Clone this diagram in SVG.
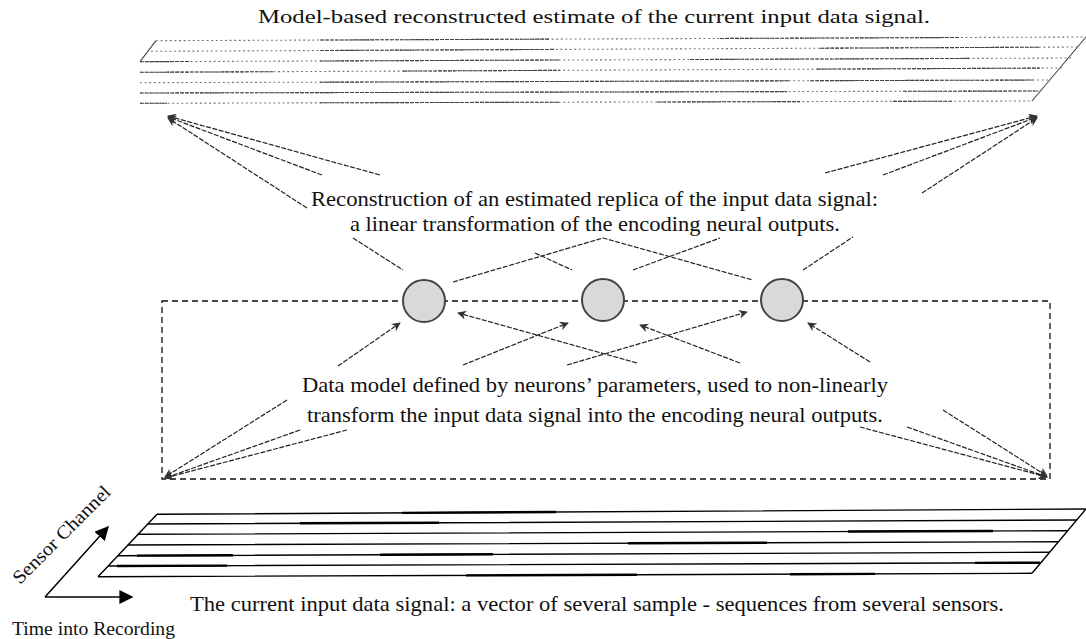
<svg xmlns="http://www.w3.org/2000/svg" width="1086" height="639" viewBox="0 0 1086 639">
<defs>
<marker id="ah" viewBox="0 0 10 10" refX="9" refY="5" markerWidth="9" markerHeight="9" markerUnits="userSpaceOnUse" orient="auto">
<path d="M0,0 L10,5 L0,10 L3,5 z" fill="#333"/>
</marker>
<marker id="axh" viewBox="0 0 10 10" refX="9" refY="5" markerWidth="14" markerHeight="14" markerUnits="userSpaceOnUse" orient="auto">
<path d="M0,0 L10,5 L0,10 z" fill="#000"/>
</marker>
<style>
.t{font-family:"Liberation Serif","Times New Roman",serif;fill:#111}
.big{font-size:21px}
.sm{font-size:19px}
.sig{stroke:#777;stroke-width:1.1;stroke-dasharray:2 2.6;fill:none}
.sigd{stroke:#444;stroke-width:1.1;stroke-dasharray:4 1;fill:none}
.edge{stroke:#444;stroke-width:1.1;fill:none}
.in{stroke:#000;stroke-width:1.4;fill:none}
.thk{stroke:#000;stroke-width:2.4;fill:none}
.box{stroke:#111;stroke-width:1.3;stroke-dasharray:6 4;fill:none}
.neuron{fill:#d9d9d9;stroke:#444;stroke-width:2}
.con{stroke:#222;stroke-width:1.2;stroke-dasharray:5 1.5;fill:none}
.ar{marker-end:url(#ah)}
.ax{stroke:#000;stroke-width:1.5;fill:none;marker-end:url(#axh)}
</style>
</defs>
<rect width="1086" height="639" fill="#fff"/>

<g id="output-signal">
<path class="edge" d="M156,40.7 L140,61.7 M1086,37 L1032,101"/>
<path class="sig" d="M156,40.7 L1086,37 M151,51.3 L1080,47 M140,61.7 L1072,58 M140,72.3 L1062,68 M140,82.7 L1051,80 M140,93 L1042,91 M140,103.3 L1032,101"/>
<path class="sigd" d="M320,40.05 L550,39.1 M720,38.45 L960,37.5 M320,50.5 L555,49.4 M820,48.2 L1040,47.2 M140,61.7 L190,61.5 M320,61 L560,60 M690,59.5 L970,58.4 M140,72.3 L273,71.7 M403,71.1 L560,70.3 M817,69.1 L1040,68.1 M320,82.2 L790,80.8 M810,80.7 L1033,80.05 M140,93 L787,91.6 M903,91.3 L1037,91 M140,103.3 L167,103.2 M320,102.8 L560,102.2 M657,102 L800,101.6 M893,101.4 L953,101.2"/>
</g>
<text class="t sm" x="258" y="23" textLength="672" lengthAdjust="spacingAndGlyphs">Model-based reconstructed estimate of the current input data signal.</text>

<g id="data-model">
<rect class="box" x="162" y="301" width="888" height="178"/>
</g>

<g id="connectors">
<path class="con ar" d="M380,175 L168,116"/>
<path class="con ar" d="M322,175 L168,117"/>
<path class="con ar" d="M307,208 L168,118"/>
<path class="con ar" d="M825,173 L1037,116"/>
<path class="con ar" d="M883,175 L1037,117"/>
<path class="con ar" d="M922,193 L1037,118"/>
<path class="con" d="M353,238 L403,270"/>
<path class="con" d="M453,282 L603,238 L753,280"/>
<path class="con" d="M535,253 L572,270"/>
<path class="con" d="M633,270 L720,238"/>
<path class="con" d="M803,270 L853,237"/>
<path class="con ar" d="M338,366 L400,323"/>
<path class="con ar" d="M637,363 L458,313"/>
<path class="con ar" d="M463,365 L568,323"/>
<path class="con ar" d="M740,363 L640,325"/>
<path class="con ar" d="M567,365 L747,312"/>
<path class="con ar" d="M870,362 L808,323"/>
<path class="con ar" d="M287,400 L165,477"/>
<path class="con ar" d="M300,430 L165,478"/>
<path class="con ar" d="M347,430 L165,478"/>
<path class="con ar" d="M943,410 L1047,476"/>
<path class="con ar" d="M907,427 L1047,477"/>
<path class="con ar" d="M860,427 L1047,477"/>
</g>

<g id="neuron-1"><circle class="neuron" cx="424" cy="301" r="21"/></g>
<g id="neuron-2"><circle class="neuron" cx="603" cy="300" r="21"/></g>
<g id="neuron-3"><circle class="neuron" cx="782" cy="300" r="21"/></g>

<text class="t big" x="311" y="206" textLength="567" lengthAdjust="spacingAndGlyphs">Reconstruction of an estimated replica of the input data signal:</text>
<text class="t big" x="350" y="231" textLength="490" lengthAdjust="spacingAndGlyphs">a linear transformation of the encoding neural outputs.</text>
<text class="t big" x="302" y="392" textLength="586" lengthAdjust="spacingAndGlyphs">Data model defined by neurons’ parameters, used to non-linearly</text>
<text class="t big" x="307" y="422" textLength="576" lengthAdjust="spacingAndGlyphs">transform the input data signal into the encoding neural outputs.</text>

<g id="input-signal">
<path class="in" d="M157,514.3 L98,576.7 M1086,509 L1032,573.3"/>
<path class="in" d="M157,514.3 L1086,509 M147.8,524 L1076.8,520 M138.1,534.3 L1067.8,530.7 M128,545 L1058.5,541.7 M117.9,555.7 L1049.6,552.3 M108.1,566 L1040.9,562.7 M98,576.7 L1032,573.3"/>
<path class="thk" d="M402,512.9 L556,512 M300,523.3 L439,522.7 M848,531.55 L993,531 M628,543.2 L767,542.7 M137,555.6 L233,555.3 M380,554.7 L493,554.3 M117,566 L227,565.6 M975,562.9 L1040,562.7 M466,575.4 L637,574.7 M790,574.2 L875,573.9"/>
</g>
<text class="t big" x="190" y="611" textLength="814" lengthAdjust="spacingAndGlyphs">The current input data signal: a vector of several sample - sequences from several sensors.</text>

<g id="axes">
<path class="ax" d="M45,597 L108,527"/>
<path class="ax" d="M45,597 L132,597"/>
<text class="t sm" transform="translate(20,585) rotate(-45)" textLength="130" lengthAdjust="spacingAndGlyphs">Sensor Channel</text>
<text class="t sm" x="12" y="635" textLength="163" lengthAdjust="spacingAndGlyphs">Time into Recording</text>
</g>
</svg>
